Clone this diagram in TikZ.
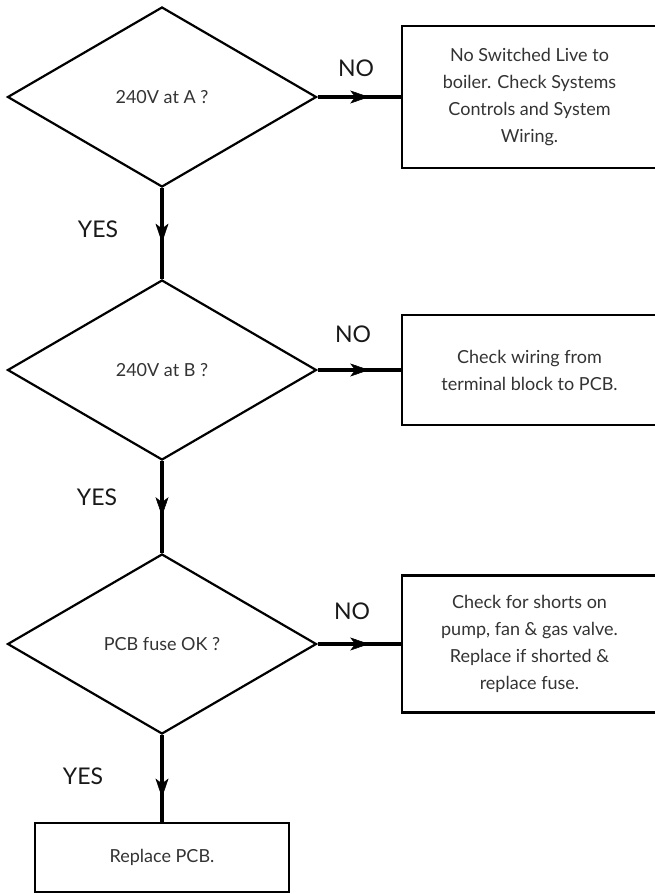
\documentclass[tikz,border=0pt]{standalone}
\usepackage{fontspec}
\setmainfont{Lato}
\usetikzlibrary{shapes.geometric,arrows.meta,decorations.markings}
\begin{document}
\begin{tikzpicture}[x=1pt,y=-1pt,
  decision/.style={diamond,draw=black,line width=2.2pt,minimum width=309pt,minimum height=180pt,inner sep=0pt,font=\fontsize{18}{27}\selectfont,text=black!80},
  action/.style={rectangle,draw=black,line width=2.4pt,align=center,inner sep=0pt,font=\fontsize{18}{27}\selectfont,text=black!80},
  lbl/.style={font=\fontsize{23}{23}\selectfont,text=black!90,inner sep=0pt},
  flow/.style={line width=4.5pt, postaction={decorate}, decoration={markings, mark=at position #1 with {\arrow{Stealth[length=19pt,width=13pt,inset=5pt,line width=0.5pt]}}}},
]
\useasboundingbox (0,0) rectangle (654,894);

\node[decision] (d1) at (162,97) {240V at A ?};
\node[decision] (d2) at (162,370) {240V at B ?};
\node[decision] (d3) at (162,644) {PCB fuse OK ?};

\node[action,minimum width=255pt,minimum height=142pt] (b1) at (529.5,97)
  {No Switched Live to\\boiler. Check Systems\\Controls and System\\Wiring.};
\node[action,minimum width=255pt,minimum height=110pt] (b2) at (529.5,370)
  {Check wiring from\\terminal block to PCB.};
\node[action,minimum width=255pt,minimum height=137pt] (b3) at (529.5,644)
  {Check for shorts on\\pump, fan \& gas valve.\\Replace if shorted \&\\replace fuse.};
\node[action,minimum width=254pt,minimum height=69pt] (fin) at (162,857.5) {Replace PCB.};

\draw[flow=0.62] (d1.east) -- (b1.west);
\draw[flow=0.62] (d2.east) -- (b2.west);
\draw[flow=0.62] (d3.east) -- (b3.west);
\draw[flow=0.6] (d1.south) -- (d2.north);
\draw[flow=0.6] (d2.south) -- (d3.north);
\draw[flow=0.72] (d3.south) -- (fin.north);

\node[lbl] (no1) at (356,68) {NO};
\node[lbl] (no2) at (353,334) {NO};
\node[lbl] (no3) at (352,611) {NO};
\node[lbl] (yes1) at (98,229) {YES};
\node[lbl] (yes2) at (97,497) {YES};
\node[lbl] (yes3) at (83,776) {YES};
\end{tikzpicture}
\end{document}
